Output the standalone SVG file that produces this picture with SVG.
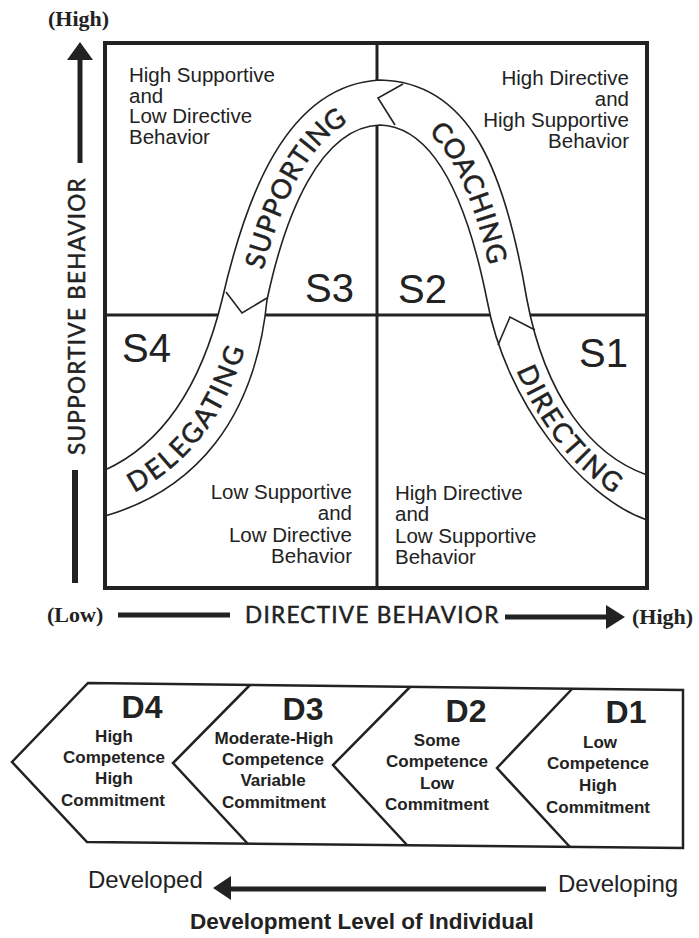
<svg xmlns="http://www.w3.org/2000/svg" width="699" height="938" viewBox="0 0 699 938">
<style>
 .q{font-family:"Liberation Sans",Arial,sans-serif;font-size:20.5px;fill:#222}
 .s{font-family:"Liberation Sans",Arial,sans-serif;font-size:40px;fill:#222}
 .cw{font-family:Lato,"Open Sans",sans-serif;font-size:27px;letter-spacing:1.5px;fill:#222;stroke:#222;stroke-width:0.5}
 .ax{font-family:Lato,"Open Sans",sans-serif;font-size:22.5px;letter-spacing:1.3px;fill:#222;stroke:#222;stroke-width:0.5}
 .hl{font-family:"Liberation Serif",serif;font-weight:bold;font-size:22px;fill:#222}
 .dh{font-family:"Liberation Sans",Arial,sans-serif;font-weight:bold;font-size:32px;fill:#222;text-anchor:middle}
 .dt{font-family:"Liberation Sans",Arial,sans-serif;font-weight:bold;font-size:17px;fill:#222;text-anchor:middle}
 .bt{font-family:"Liberation Sans",Arial,sans-serif;font-size:24px;fill:#222}
 .ti{font-family:"Liberation Sans",Arial,sans-serif;font-weight:bold;font-size:22.5px;fill:#222}
 .grid{stroke:#222;stroke-width:3;fill:none}
 .frame{stroke:#222;stroke-width:4;fill:none}
 .edge{stroke:#222;stroke-width:1.6;fill:none}
 .chev{stroke:#222;stroke-width:2.5;fill:none;stroke-linejoin:miter}
 .bar{stroke:#222;stroke-width:5;fill:none}
 .head{fill:#222;stroke:none}
</style>
<defs>
 <path id="pDel" d="M105,493 C177.5,467.5 227.5,405 244.5,300"/>
 <path id="pSup" d="M244.5,300 C265,207.5 302.5,106 380,102.5"/>
 <path id="pCoa" d="M380,102.5 C455,104.5 487.5,192.5 507,300"/>
 <path id="pDir" d="M507,300 C525,397.5 585,476 647,497.5"/>
</defs>
<rect width="699" height="938" fill="#fff"/>

<g id="axis-labels">
 <text class="hl" x="48" y="26">(High)</text>
 <text class="ax" transform="translate(85,316) rotate(-90)" text-anchor="middle">SUPPORTIVE BEHAVIOR</text>
 <text class="hl" x="47" y="622">(Low)</text>
 <text class="ax" x="245" y="623">DIRECTIVE BEHAVIOR</text>
 <text class="hl" x="632" y="624">(High)</text>
</g>

<g id="connectors">
 <g id="y-axis-arrow">
  <polygon class="head" points="80,42 67,60 93,60"/>
  <line class="bar" x1="80" y1="58" x2="80" y2="163"/>
  <line class="bar" x1="75" y1="470" x2="75" y2="583" style="stroke-width:6"/>
 </g>
 <g id="x-axis-arrow">
  <line class="bar" x1="118" y1="615" x2="230" y2="615"/>
  <line class="bar" x1="505" y1="617" x2="609" y2="617"/>
  <polygon class="head" points="606,605 625,617 606,629"/>
 </g>
 <g id="development-arrow">
  <polygon class="head" points="213,888 231,876 231,900"/>
  <line class="bar" x1="229" y1="889" x2="546" y2="889"/>
 </g>
</g>

<g id="quadrant-grid">
 <line class="grid" x1="377" y1="43" x2="377" y2="588"/>
 <line class="grid" x1="105" y1="315" x2="647" y2="315"/>
</g>

<g id="leadership-curve">
 <path fill="#fff" stroke="none" d="M105,470 C160,445 200,390 222,300 C245,200 285,85 380,80 C470,82 505,170 527,300 C545,395 590,455 647,475 L647,520 C580,497 505,400 487,300 C470,215 440,127 380,125 C320,127 285,215 267,300 C255,420 195,490 105,516 Z"/>
 <path class="edge" d="M105,470 C160,445 200,390 222,300 C245,200 285,85 380,80 C470,82 505,170 527,300 C545,395 590,455 647,475"/>
 <path class="edge" d="M105,516 C195,490 255,420 267,300 C285,215 320,127 380,125 C440,127 470,215 487,300 C505,400 580,497 647,520"/>
 <polyline class="edge" points="226,292 242,313 267,298"/>
 <polyline class="edge" points="403,84 378,98 395,125"/>
 <polyline class="edge" points="498,345 510,317 535,330"/>
 <text class="cw" text-anchor="middle" dominant-baseline="central"><textPath href="#pDel" startOffset="46%">DELEGATING</textPath></text>
 <text class="cw" text-anchor="middle" dominant-baseline="central"><textPath href="#pSup" startOffset="49%">SUPPORTING</textPath></text>
 <text class="cw" text-anchor="middle" dominant-baseline="central"><textPath href="#pCoa" startOffset="55%">COACHING</textPath></text>
 <text class="cw" text-anchor="middle" dominant-baseline="central"><textPath href="#pDir" startOffset="58%">DIRECTING</textPath></text>
</g>

<g id="quadrant-frame">
 <rect class="frame" x="105" y="43" width="542" height="545"/>
</g>

<g id="S3">
 <text class="q" x="129" y="82">High Supportive</text>
 <text class="q" x="129" y="102.5">and</text>
 <text class="q" x="129" y="123">Low Directive</text>
 <text class="q" x="129" y="144">Behavior</text>
 <text class="s" x="305" y="302">S3</text>
</g>
<g id="S2">
 <g text-anchor="end">
  <text class="q" x="629" y="85">High Directive</text>
  <text class="q" x="629" y="106">and</text>
  <text class="q" x="629" y="127">High Supportive</text>
  <text class="q" x="629" y="148">Behavior</text>
 </g>
 <text class="s" x="398" y="303">S2</text>
</g>
<g id="S4">
 <text class="s" x="122" y="362">S4</text>
 <g text-anchor="end">
  <text class="q" x="352" y="499">Low Supportive</text>
  <text class="q" x="352" y="520">and</text>
  <text class="q" x="352" y="542">Low Directive</text>
  <text class="q" x="352" y="563">Behavior</text>
 </g>
</g>
<g id="S1">
 <text class="s" x="579" y="367">S1</text>
 <text class="q" x="395" y="500">High Directive</text>
 <text class="q" x="395" y="521">and</text>
 <text class="q" x="395" y="543">Low Supportive</text>
 <text class="q" x="395" y="564">Behavior</text>
</g>

<g id="development-levels">
 <polygon class="chev" points="88,683 683,690 683,848 87,842 12,762"/>
 <polyline class="chev" points="250,685 173,763 248,844"/>
 <polyline class="chev" points="410,687 333,765 407,845"/>
 <polyline class="chev" points="572,689 497,768 570,847"/>
 <g id="D4">
  <text class="dh" x="142" y="718">D4</text>
  <text class="dt" x="114" y="742">High</text>
  <text class="dt" x="114" y="763">Competence</text>
  <text class="dt" x="114" y="784">High</text>
  <text class="dt" x="113" y="806">Commitment</text>
 </g>
 <g id="D3">
  <text class="dh" x="303" y="720">D3</text>
  <text class="dt" x="274" y="744">Moderate-High</text>
  <text class="dt" x="273" y="765">Competence</text>
  <text class="dt" x="273" y="786">Variable</text>
  <text class="dt" x="274" y="808">Commitment</text>
 </g>
 <g id="D2">
  <text class="dh" x="466" y="722">D2</text>
  <text class="dt" x="437" y="746">Some</text>
  <text class="dt" x="437" y="767">Competence</text>
  <text class="dt" x="437" y="789">Low</text>
  <text class="dt" x="437" y="810">Commitment</text>
 </g>
 <g id="D1">
  <text class="dh" x="626" y="723">D1</text>
  <text class="dt" x="600" y="748">Low</text>
  <text class="dt" x="598" y="769">Competence</text>
  <text class="dt" x="598" y="791">High</text>
  <text class="dt" x="598" y="813">Commitment</text>
 </g>
</g>

<g id="development-scale">
 <text class="bt" x="88" y="888">Developed</text>
 <text class="bt" x="558" y="892">Developing</text>
 <text class="ti" x="190" y="929">Development Level of Individual</text>
</g>
</svg>
